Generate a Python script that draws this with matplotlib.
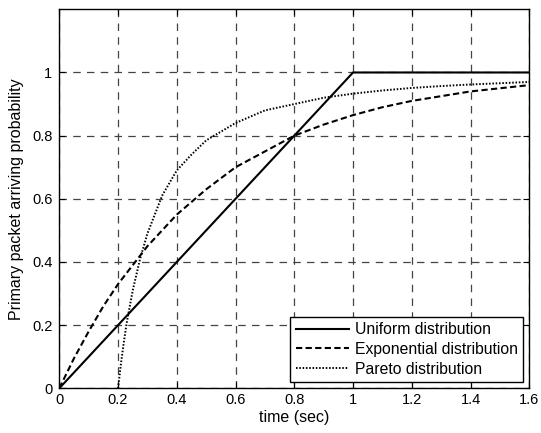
import numpy as np
import matplotlib
matplotlib.use('Agg')
import matplotlib.pyplot as plt

plt.rcParams['font.family'] = ['Liberation Sans', 'DejaVu Sans']

# values
t_uni = [0, 1.0, 1.6]
p_uni = [0, 1.0, 1.0]

t_exp = [0, 0.05, 0.1, 0.15, 0.2, 0.3, 0.4, 0.5, 0.6, 0.7, 0.8, 0.9, 1.0,
         1.1, 1.2, 1.3, 1.4, 1.5, 1.6]
p_exp = [0, 0.095, 0.18, 0.26, 0.33, 0.45, 0.55, 0.63, 0.70, 0.75, 0.80, 0.835,
         0.865, 0.89, 0.91, 0.925, 0.94, 0.95, 0.96]

t_par = [0.2, 0.21, 0.22, 0.23, 0.25, 0.275, 0.3, 0.35, 0.4, 0.45, 0.5, 0.6,
         0.7, 0.8, 0.9, 1.0, 1.1, 1.2, 1.3, 1.4, 1.5, 1.6]
p_par = [0, 0.079, 0.148, 0.21, 0.31, 0.41, 0.49, 0.61, 0.69, 0.74, 0.785, 0.84,
         0.88, 0.90, 0.92, 0.933, 0.943, 0.951, 0.957, 0.962, 0.966, 0.97]

labels = ['Uniform distribution', 'Exponential distribution', 'Pareto distribution']
xticks = [0, 0.2, 0.4, 0.6, 0.8, 1, 1.2, 1.4, 1.6]
yticks = [0, 0.2, 0.4, 0.6, 0.8, 1]

fig = plt.figure(figsize=(5.41, 4.33), dpi=100)
ax = fig.add_axes([0.1096, 0.1032, 0.8688, 0.8753])

ax.plot(t_uni, p_uni, 'k-', lw=1.5, label=labels[0])
ax.plot(t_exp, p_exp, 'k--', lw=1.5, dashes=(3, 1.6), label=labels[1])
ax.plot(t_par, p_par, 'k:', lw=1.4, dashes=(0.8, 0.9), label=labels[2])

ax.set_xlim(0, 1.6)
ax.set_ylim(0, 1.2)
ax.set_xticks(xticks)
ax.set_xticklabels(['0', '0.2', '0.4', '0.6', '0.8', '1', '1.2', '1.4', '1.6'])
ax.set_yticks(yticks)
ax.set_yticklabels(['0', '0.2', '0.4', '0.6', '0.8', '1'])
ax.tick_params(direction='in', top=True, right=True, labelsize=10.5, length=4)
ax.tick_params(axis='x', pad=3.5)
ax.tick_params(axis='y', pad=5)
ax.grid(True, color='#444444', linestyle=(0, (6, 5)), lw=0.9)
for s in ax.spines.values():
    s.set_linewidth(1.0)

ax.set_xlabel('time (sec)', fontsize=11.5, labelpad=2)
ax.set_ylabel('Primary packet arriving probability', fontsize=11.5, labelpad=6)

leg = ax.legend(loc='lower right', fontsize=11.3, fancybox=False, framealpha=1,
                edgecolor='black', handlelength=3.4, handletextpad=0.35,
                borderaxespad=0.4, labelspacing=0.3, borderpad=0.35)
leg.get_frame().set_linewidth(1.0)

fig.savefig('out.png', dpi=100)
